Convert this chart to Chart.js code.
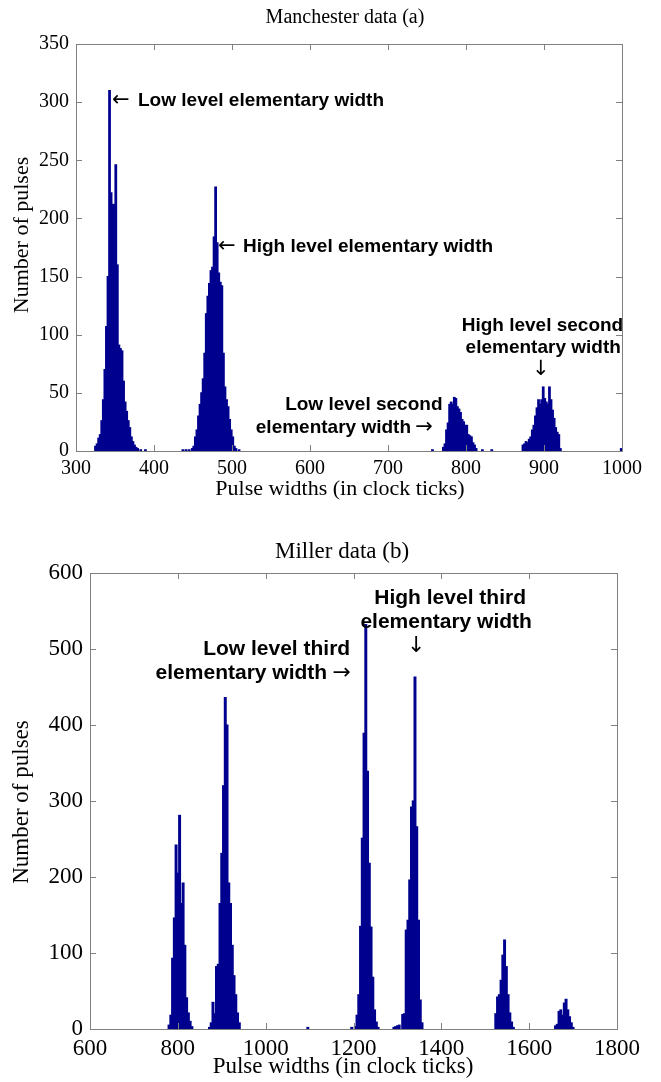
<!DOCTYPE html>
<html>
<head>
<meta charset="utf-8">
<script src="https://cdn.jsdelivr.net/npm/chart.js@4.4.0/dist/chart.umd.min.js"></script>
<style>
  html, body { margin: 0; padding: 0; background: #fff; }
  canvas { display: block; }
</style>
</head>
<body>
<canvas id="manchester" width="661" height="525" style="width:661px;height:525px"></canvas>
<canvas id="miller" width="661" height="557" style="width:661px;height:557px"></canvas>
<script>
// Manchester histogram (bin width 2 clock ticks)
const manchesterWidths = [
  325, 327, 329, 331, 333, 335, 337, 339, 341, 343, 345, 347, 349, 351, 353, 355, 357, 359, 361, 363,
  365, 367, 369, 371, 373, 375, 377, 379, 383, 389,
  437, 441, 445, 449, 451, 453, 455, 457, 459, 461, 463, 465, 467, 469, 471, 473, 475, 477, 479, 481,
  483, 485, 487, 489, 491, 493, 495, 497, 499, 501, 503, 505, 509,
  757, 771, 773, 775, 777, 779, 781, 783, 785, 787, 789, 791, 793, 795, 797, 799, 801, 803, 805, 807,
  809, 811, 813, 821, 833,
  873, 875, 877, 879, 881, 883, 885, 887, 889, 891, 893, 895, 897, 899, 901, 903, 905, 907, 909, 911,
  913, 915, 917, 919, 921, 999
];
const manchesterCounts = [
  4, 6, 11, 14, 26, 44, 70, 107, 150, 310, 222, 212, 212, 246, 160, 91, 88, 86, 60, 42,
  34, 26, 20, 12, 8, 5, 3, 2, 1, 1,
  1, 1, 1, 2, 4, 12, 18, 30, 40, 50, 62, 84, 118, 133, 144, 155, 158, 184, 227, 179,
  153, 145, 142, 84, 55, 44, 38, 27, 18, 12, 4, 2, 1,
  1, 3, 6, 18, 24, 40, 42, 40, 46, 45, 38, 36, 33, 27, 25, 22, 22, 14, 13, 12,
  7, 5, 2, 1, 1,
  5, 6, 8, 7, 10, 12, 18, 22, 30, 37, 44, 40, 44, 55, 45, 42, 40, 55, 44, 35,
  28, 20, 16, 14, 2, 2
];
const manchesterTicks = [300, 400, 500, 600, 700, 800, 900, 1000];
const manchesterCountTicks = [0, 50, 100, 150, 200, 250, 300, 350];

// Miller histogram (bin width 4 clock ticks)
const millerWidths = [
  780, 784, 788, 792, 796, 800, 804, 808, 812, 816, 820, 824, 828, 832,
  872, 876, 880, 884, 888, 892, 896, 900, 904, 908, 912, 916, 920, 924, 928, 932, 936, 940,
  1096, 1196,
  1204, 1208, 1212, 1216, 1220, 1224, 1228, 1232, 1236, 1240, 1244, 1248, 1252, 1256,
  1292, 1296, 1300, 1304, 1312, 1316, 1320, 1324, 1328, 1332, 1336, 1340, 1344, 1348, 1352, 1356,
  1524, 1528, 1532, 1536, 1540, 1544, 1548, 1552, 1556, 1560, 1564,
  1660, 1664, 1668, 1672, 1676, 1680, 1684, 1688, 1692, 1696, 1700
];
const millerCounts = [
  5, 18, 93, 146, 242, 205, 281, 165, 192, 110, 41, 21, 10, 3,
  2, 8, 35, 20, 82, 85, 165, 231, 320, 436, 400, 192, 165, 110, 70, 45, 21, 8,
  2, 2,
  3, 18, 45, 135, 251, 389, 532, 339, 218, 134, 68, 25, 9, 2,
  2, 3, 4, 5, 19, 20, 130, 143, 196, 292, 300, 463, 266, 143, 38, 8,
  20, 42, 45, 64, 97, 117, 82, 45, 21, 9, 2,
  4, 6, 23, 25, 18, 34, 39, 25, 16, 8, 2
];
const millerTicks = [600, 800, 1000, 1200, 1400, 1600, 1800];
const millerCountTicks = [0, 100, 200, 300, 400, 500, 600];

const barColor = '#00008f';
const axisGrey = '#808080';

// draws matlab-like box, inward ticks, titles and the annotations
function framePlugin(cfg) {
  return {
    id: 'frame',
    afterDraw(chart) {
      const ctx = chart.ctx, a = chart.chartArea;
      const xs = chart.scales.x, ys = chart.scales.y;
      ctx.save();
      ctx.strokeStyle = axisGrey;
      ctx.lineWidth = 1;
      ctx.strokeRect(a.left + 0.5, a.top + 0.5, a.right - a.left, a.bottom - a.top);
      ctx.beginPath();
      xs.ticks.forEach(t => {
        const p = Math.round(xs.getPixelForValue(t.value)) + 0.5;
        ctx.moveTo(p, a.bottom); ctx.lineTo(p, a.bottom - 6);
        ctx.moveTo(p, a.top); ctx.lineTo(p, a.top + 6);
      });
      ys.ticks.forEach(t => {
        const p = Math.round(ys.getPixelForValue(t.value)) + 0.5;
        ctx.moveTo(a.left, p); ctx.lineTo(a.left + 6, p);
        ctx.moveTo(a.right, p); ctx.lineTo(a.right - 6, p);
      });
      ctx.stroke();

      ctx.fillStyle = '#000';
      ctx.textAlign = 'center';
      ctx.textBaseline = 'middle';
      ctx.font = cfg.titleFont;
      ctx.fillText(cfg.title, cfg.titleX, cfg.titleY);
      ctx.font = cfg.axisFont;
      ctx.fillText(cfg.xTitle, cfg.xTitleX, cfg.xTitleY);
      ctx.save();
      ctx.translate(cfg.yTitleX, cfg.yTitleY);
      ctx.rotate(-Math.PI / 2);
      ctx.fillText(cfg.yTitle, 0, 0);
      ctx.restore();

      cfg.notes.forEach(n => {
        ctx.font = n.arrow ? cfg.arrowFont : cfg.noteFont;
        ctx.textAlign = n.align || 'center';
        ctx.fillText(n.text, xs.getPixelForValue(n.x), ys.getPixelForValue(n.y));
      });
      ctx.restore();
    }
  };
}

function makeHist(id, widths, counts, xTicks, yTicks, box, fontSize, frameCfg) {
  const canvas = document.getElementById(id);
  return new Chart(canvas, {
    type: 'bar',
    data: {
      datasets: [{
        data: widths.map((w, i) => ({ x: w, y: counts[i] })),
        backgroundColor: barColor,
        borderWidth: 0,
        inflateAmount: 0.6,  // close the white seams between neighbouring bins
        barPercentage: 1,
        categoryPercentage: 1
      }]
    },
    options: {
      responsive: false,
      animation: false,
      events: [],
      layout: { padding: { left: 0, top: box.top, right: canvas.width - box.right, bottom: 0 } },
      plugins: { legend: { display: false }, tooltip: { enabled: false } },
      scales: {
        x: {
          type: 'linear',
          min: xTicks[0],
          max: xTicks[xTicks.length - 1],
          offset: false,
          grid: { display: false, drawTicks: false },
          border: { display: false },
          afterBuildTicks: s => { s.ticks = xTicks.map(v => ({ value: v })); },
          afterFit: s => { s.height = canvas.height - box.bottom; },
          ticks: {
            padding: box.xTickPad,
            maxRotation: 0,
            autoSkip: false,
            color: '#000',
            font: { family: 'Liberation Serif', size: fontSize },
            callback: v => String(v)
          }
        },
        y: {
          min: yTicks[0],
          max: yTicks[yTicks.length - 1],
          grid: { display: false, drawTicks: false },
          border: { display: false },
          afterBuildTicks: s => { s.ticks = yTicks.map(v => ({ value: v })); },
          afterFit: s => { s.width = box.left; },
          ticks: {
            padding: 7,
            color: '#000',
            font: { family: 'Liberation Serif', size: fontSize },
            callback: v => String(v)
          }
        }
      }
    },
    plugins: [framePlugin(frameCfg)]
  });
}

makeHist('manchester', manchesterWidths, manchesterCounts, manchesterTicks, manchesterCountTicks,
  { left: 76, right: 622, top: 44, bottom: 451, xTickPad: 6 }, 20, {
    title: 'Manchester data (a)', titleFont: '20px "Liberation Serif"', titleX: 345, titleY: 18,
    xTitle: 'Pulse widths (in clock ticks)', axisFont: '22px "Liberation Serif"', xTitleX: 340, xTitleY: 489,
    yTitle: 'Number of pulses', yTitleX: 22, yTitleY: 235,
    noteFont: 'bold 19px "Liberation Sans"',
    arrowFont: '21px "DejaVu Sans"',
    notes: [
      { text: '←', x: 346, y: 301, align: 'left', arrow: true },
      { text: 'Low level elementary width', x: 379.5, y: 301, align: 'left' },
      { text: '←', x: 482, y: 176, align: 'left', arrow: true },
      { text: 'High level elementary width', x: 514, y: 176, align: 'left' },
      { text: 'High level second', x: 898, y: 108 },
      { text: 'elementary width', x: 899, y: 89 },
      { text: '↓', x: 896, y: 70, arrow: true },
      { text: 'Low level second', x: 669, y: 40 },
      { text: 'elementary width', x: 729.5, y: 20, align: 'right' },
      { text: '→', x: 735, y: 20, align: 'left', arrow: true }
    ]
  });

makeHist('miller', millerWidths, millerCounts, millerTicks, millerCountTicks,
  { left: 90, right: 617, top: 48, bottom: 504, xTickPad: 6 }, 23, {
    title: 'Miller data (b)', titleFont: '23px "Liberation Serif"', titleX: 342, titleY: 27,
    xTitle: 'Pulse widths (in clock ticks)', axisFont: '23px "Liberation Serif"', xTitleX: 343, xTitleY: 542,
    yTitle: 'Number of pulses', yTitleX: 22, yTitleY: 277,
    noteFont: 'bold 21px "Liberation Sans"',
    arrowFont: '22px "DejaVu Sans"',
    notes: [
      { text: 'High level third', x: 1420, y: 567 },
      { text: 'elementary width', x: 1411, y: 535 },
      { text: '↓', x: 1343, y: 503, arrow: true },
      { text: 'Low level third', x: 1025, y: 500 },
      { text: 'elementary width', x: 1140, y: 468, align: 'right' },
      { text: '→', x: 1152, y: 468, align: 'left', arrow: true }
    ]
  });
</script>
</body>
</html>
